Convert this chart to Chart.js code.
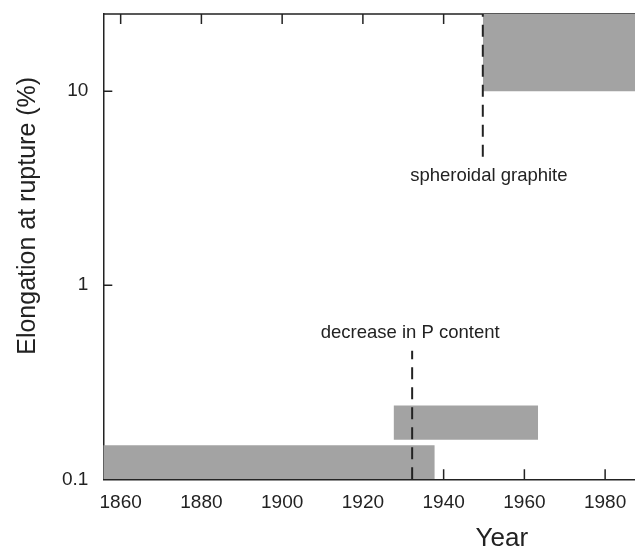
<!DOCTYPE html>
<html>
<head>
<meta charset="utf-8">
<script src="https://cdn.jsdelivr.net/npm/chart.js@4.4.1/dist/chart.umd.min.js"></script>
<style>
  html, body { margin: 0; padding: 0; background: #fff; }
  #wrap { width: 635px; height: 546px; position: relative; }
</style>
</head>
<body>
<div id="wrap"><canvas id="c" width="635" height="546"></canvas></div>
<script>
// ---- data ----
const xMin = 1855.7;
const xMax = 1987.4;
const yMin = 0.1;
const yMax = 25;
const xTickValues = [1860, 1880, 1900, 1920, 1940, 1960, 1980];
const yTickValues = [0.1, 1, 10];

// gray ranges: year span and elongation span
const barStart = [1850, 1927.6, 1949.7];
const barEnd   = [1937.8, 1963.4, 2010];
const barLow   = [0.1, 0.16, 10];
const barHigh  = [0.15, 0.24, 40];

// dashed event markers
const eventNames = ['decrease in P content', 'spheroidal graphite'];
const eventYear  = [1932.2, 1949.7];
const eventFrom  = [0.1, 4.6];
const eventTo    = [0.46, 40];
// label anchors (data coordinates)
const labelYear  = [1931.7, 1951.2];
const labelValue = [0.567, 3.66];

const xTitle = 'Year';
const xTitleAt = 1954.4;
const yTitle = 'Elongation at rupture (%)';
const yTitleAt = 2.28;

const INK = '#222222';
const GRAY = '#a3a3a3';
const FONT = '"Liberation Sans", Arial, sans-serif';

const datasets = [];
for (let i = 0; i < barStart.length; i++) {
  datasets.push({
    label: 'range ' + (i + 1),
    data: [{x: barStart[i], y: barHigh[i]}, {x: barEnd[i], y: barHigh[i]}],
    borderWidth: 0,
    borderColor: GRAY,
    backgroundColor: GRAY,
    pointRadius: 0,
    fill: {value: barLow[i]},
    order: 2
  });
}
for (let i = 0; i < eventYear.length; i++) {
  datasets.push({
    label: eventNames[i],
    data: [{x: eventYear[i], y: eventFrom[i]}, {x: eventYear[i], y: eventTo[i]}],
    borderColor: INK,
    borderWidth: 2,
    borderDash: [12, 8],
    pointRadius: 0,
    fill: false,
    order: 1
  });
}

const framePlugin = {
  id: 'frame',
  beforeDatasetsDraw(chart) {
    const {ctx, chartArea: a, scales} = chart;
    ctx.save();
    ctx.strokeStyle = INK;
    ctx.lineWidth = 1.5;
    ctx.beginPath();
    ctx.moveTo(a.left, a.top);
    ctx.lineTo(a.right, a.top);
    xTickValues.forEach(v => {
      const px = scales.x.getPixelForValue(v);
      ctx.moveTo(px, a.bottom);
      ctx.lineTo(px, a.bottom - 10);
      ctx.moveTo(px, a.top);
      ctx.lineTo(px, a.top + 10);
    });
    yTickValues.forEach(v => {
      const py = scales.y.getPixelForValue(v);
      ctx.moveTo(a.left, py);
      ctx.lineTo(a.left + 9, py);
    });
    ctx.stroke();
    ctx.restore();
  },
  afterDatasetsDraw(chart) {
    const {ctx, scales} = chart;
    ctx.save();
    ctx.fillStyle = INK;
    ctx.font = '18.5px ' + FONT;
    ctx.textAlign = 'center';
    ctx.textBaseline = 'middle';
    eventNames.forEach((t, i) => {
      ctx.fillText(t, scales.x.getPixelForValue(labelYear[i]), scales.y.getPixelForValue(labelValue[i]));
    });
    ctx.font = '26px ' + FONT;
    ctx.textBaseline = 'alphabetic';
    ctx.fillText(xTitle, scales.x.getPixelForValue(xTitleAt), 546);
    // y axis title
    ctx.font = '25px ' + FONT;
    ctx.textBaseline = 'middle';
    ctx.translate(28, scales.y.getPixelForValue(yTitleAt));
    ctx.rotate(-Math.PI / 2);
    ctx.fillText(yTitle, 0, 0);
    ctx.restore();
  }
};

new Chart(document.getElementById('c'), {
  type: 'line',
  data: {datasets},
  options: {
    responsive: false,
    animation: false,
    events: [],
    layout: {autoPadding: false, padding: {top: 14, right: 0, left: 0, bottom: 0}},
    plugins: {legend: {display: false}, tooltip: {enabled: false}},
    scales: {
      x: {
        type: 'linear',
        min: xMin, max: xMax,
        afterBuildTicks: s => { s.ticks = xTickValues.map(v => ({value: v})); },
        afterFit: s => { s.height = 66.7; s.paddingLeft = 0; s.paddingRight = 0; },
        grid: {display: false, drawTicks: false},
        border: {display: true, color: INK, width: 1.5},
        ticks: {
          color: INK, padding: 12, maxRotation: 0, autoSkip: false,
          font: {family: FONT, size: 19},
          callback: v => String(v)
        },
        title: {display: false, text: xTitle}
      },
      y: {
        type: 'logarithmic',
        min: yMin, max: yMax,
        afterBuildTicks: s => { s.ticks = yTickValues.map(v => ({value: v})); },
        afterFit: s => { s.width = 103.3; s.paddingTop = 0; s.paddingBottom = 0; },
        grid: {display: false, drawTicks: false},
        border: {display: true, color: INK, width: 1.5},
        ticks: {
          color: INK, padding: 15, autoSkip: false,
          font: {family: FONT, size: 19},
          callback: v => String(v)
        },
        title: {display: false, text: yTitle}
      }
    }
  },
  plugins: [framePlugin]
});
</script>
</body>
</html>
